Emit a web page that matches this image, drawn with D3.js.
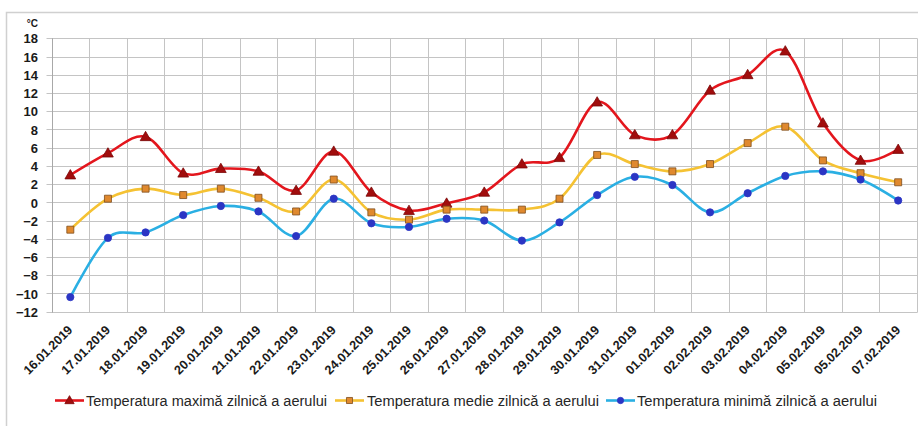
<!DOCTYPE html>
<html>
<head>
<meta charset="utf-8">
<script src="https://cdn.jsdelivr.net/npm/d3@7"></script>
<style>
  html, body { margin: 0; padding: 0; background: #ffffff; }
  svg { display: block; font-family: "Liberation Sans", Arial, sans-serif; }
</style>
</head>
<body>
<svg id="chart" width="918" height="426"></svg>
<script>
// Daily air temperatures, 16.01.2019 – 07.02.2019 (°C)
const dates = ["16.01.2019","17.01.2019","18.01.2019","19.01.2019","20.01.2019","21.01.2019",
  "22.01.2019","23.01.2019","24.01.2019","25.01.2019","26.01.2019","27.01.2019","28.01.2019",
  "29.01.2019","30.01.2019","31.01.2019","01.02.2019","02.02.2019","03.02.2019","04.02.2019",
  "05.02.2019","05.02.2019","07.02.2019"];
const tMax = [3.0, 5.4, 7.2, 3.2, 3.7, 3.4, 1.3, 5.6, 1.1, -0.9, -0.1, 1.1, 4.2,
  4.9, 11.0, 7.4, 7.4, 12.3, 14.0, 16.6, 8.7, 4.6, 5.8];
const tMed = [-3.0, 0.4, 1.5, 0.8, 1.5, 0.5, -1.0, 2.5, -1.1, -1.9, -0.8, -0.8, -0.8,
  0.4, 5.2, 4.2, 3.4, 4.2, 6.5, 8.3, 4.6, 3.2, 2.2];
const tMin = [-10.4, -3.9, -3.3, -1.4, -0.4, -1.0, -3.7, 0.4, -2.3, -2.7, -1.8, -2.0, -4.2,
  -2.2, 0.8, 2.8, 1.9, -1.1, 1.0, 2.9, 3.4, 2.5, 0.2];
const yTicks = [18, 16, 14, 12, 10, 8, 6, 4, 2, 0, -2, -4, -6, -8, -10, -12];
const seriesNames = ["Temperatura maximă zilnică a aerului",
  "Temperatura medie zilnică a aerului",
  "Temperatura minimă zilnică a aerului"];

const series = [
  { name: seriesNames[0], values: tMax, line: "#e3161d", marker: "triangle", fill: "#a10d0d", stroke: "#7a0808" },
  { name: seriesNames[1], values: tMed, line: "#f5c233", marker: "square", fill: "#e0892e", stroke: "#7d4c1c" },
  { name: seriesNames[2], values: tMin, line: "#2aafe3", marker: "circle", fill: "#2b35c4", stroke: "#2b35c4" }
];

const svg = d3.select("#chart");
const W = 918, H = 426;
const plot = { left: 51.5, right: 917, top: 38.3, bottom: 311.7 };

// Outer chart frame
svg.append("path")
  .attr("d", `M6.5,${H} V12.5 H${W}`)
  .attr("fill", "none").attr("stroke", "#d0d0d0").attr("stroke-width", 1.5);

const x = d3.scaleBand().domain(d3.range(dates.length)).range([plot.left, plot.right]).padding(0);
const y = d3.scaleLinear().domain([-12, 18]).range([plot.bottom, plot.top]);
const cx = i => x(i) + x.bandwidth() / 2;

// Horizontal gridlines
svg.append("g").selectAll("line").data(yTicks).join("line")
  .attr("x1", plot.left - 5).attr("x2", plot.right)
  .attr("y1", d => Math.round(y(d)) + 0.5).attr("y2", d => Math.round(y(d)) + 0.5)
  .attr("stroke", "#c4c4c4").attr("stroke-width", 1);

// Vertical gridlines at category boundaries
svg.append("g").selectAll("line").data(d3.range(1, dates.length + 1)).join("line")
  .attr("x1", i => Math.round(plot.left + i * x.bandwidth()) + 0.5)
  .attr("x2", i => Math.round(plot.left + i * x.bandwidth()) + 0.5)
  .attr("y1", plot.top).attr("y2", plot.bottom + 1)
  .attr("stroke", "#c4c4c4").attr("stroke-width", 1);

// Value axis line
svg.append("line")
  .attr("x1", Math.round(plot.left) + 0.5).attr("x2", Math.round(plot.left) + 0.5)
  .attr("y1", plot.top).attr("y2", plot.bottom + 1)
  .attr("stroke", "#a8a8a8").attr("stroke-width", 1);

// Value axis labels
const yAxis = d3.axisLeft(y).tickValues(yTicks).tickSize(0).tickPadding(0);
const gy = svg.append("g").attr("transform", `translate(38,0)`).call(yAxis);
gy.select(".domain").remove();
gy.selectAll("text")
  .attr("font-family", "'Liberation Sans', Arial, sans-serif")
  .attr("font-size", 13).attr("font-weight", "bold").attr("fill", "#1a1a1a")
  .attr("dy", "0.36em");

svg.append("text").attr("x", 38).attr("y", 27).attr("text-anchor", "end")
  .attr("font-size", 10).attr("font-weight", "bold").attr("fill", "#1a1a1a").text("°C");

// Category axis labels, rotated
const xAxis = d3.axisBottom(x).tickFormat(i => dates[i]).tickSize(0).tickPadding(0);
const gx = svg.append("g").attr("transform", `translate(0,${plot.bottom})`).call(xAxis);
gx.select(".domain").remove();
gx.selectAll("text")
  .attr("font-family", "'Liberation Sans', Arial, sans-serif")
  .attr("font-size", 12.6).attr("font-weight", "bold").attr("fill", "#1a1a1a")
  .attr("text-anchor", "end").attr("dy", 0).attr("y", 0)
  .attr("transform", "translate(3,19) rotate(-45)");

// Smoothed series lines
const line = d3.line().x((d, i) => cx(i)).y(d => y(d)).curve(d3.curveCardinal.tension(0));

const symbolFor = m => m === "triangle" ? d3.symbolTriangle : m === "square" ? d3.symbolSquare : d3.symbolCircle;
const sizeFor = m => m === "triangle" ? 50 : m === "square" ? 49 : 42;

series.forEach(s => {
  svg.append("path").datum(s.values)
    .attr("d", line)
    .attr("fill", "none").attr("stroke", s.line).attr("stroke-width", 2.6)
    .attr("stroke-linejoin", "round");
});

series.forEach(s => {
  svg.append("g").selectAll("path").data(s.values).join("path")
    .attr("transform", (d, i) => `translate(${cx(i)},${y(d) + (s.marker === "triangle" ? 0.8 : 0)})`)
    .attr("d", d3.symbol().type(symbolFor(s.marker)).size(sizeFor(s.marker)))
    .attr("fill", s.fill).attr("stroke", s.stroke).attr("stroke-width", 0.8);
});

// Legend
const legendItems = [
  { s: series[0], x0: 55, textX: 86, textLen: 241 },
  { s: series[1], x0: 335, textX: 367, textLen: 232 },
  { s: series[2], x0: 606, textX: 637, textLen: 240 }
];
const legendY = 400.5;
const lg = svg.append("g");
legendItems.forEach(it => {
  lg.append("line")
    .attr("x1", it.x0).attr("x2", it.x0 + 29)
    .attr("y1", legendY).attr("y2", legendY)
    .attr("stroke", it.s.line).attr("stroke-width", 2.6);
  lg.append("path")
    .attr("transform", `translate(${it.x0 + 14.5},${legendY + (it.s.marker === "triangle" ? 0.5 : 0)})`)
    .attr("d", d3.symbol().type(symbolFor(it.s.marker)).size(sizeFor(it.s.marker) * 0.75))
    .attr("fill", it.s.fill).attr("stroke", it.s.stroke).attr("stroke-width", 0.8);
  lg.append("text")
    .attr("x", it.textX).attr("y", legendY + 5)
    .attr("font-size", 14).attr("fill", "#262626")
    .attr("textLength", it.textLen).attr("lengthAdjust", "spacingAndGlyphs")
    .text(it.s.name);
});
</script>
</body>
</html>
